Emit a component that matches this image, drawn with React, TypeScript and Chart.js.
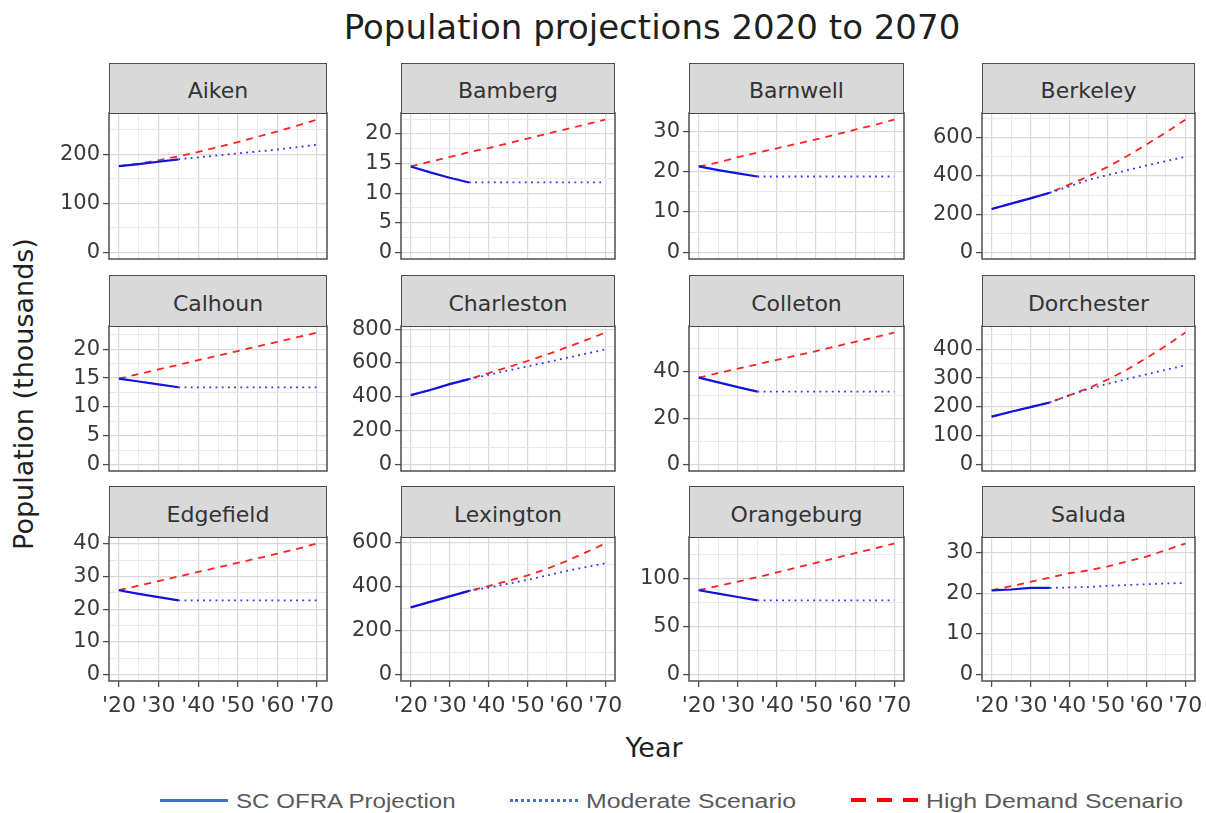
import React, { useEffect, useRef } from 'react';
import { Chart, registerables } from 'chart.js';

Chart.register(...registerables);

// ---------------- data ----------------
const COUNTIES = ['Aiken', 'Bamberg', 'Barnwell', 'Berkeley', 'Calhoun', 'Charleston', 'Colleton', 'Dorchester', 'Edgefield', 'Lexington', 'Orangeburg', 'Saluda'];

const OFRA_YEARS = [2020, 2025, 2030, 2035];
const MODERATE_YEARS = [2035, 2040, 2045, 2050, 2055, 2060, 2065, 2070];
const HIGH_YEARS = [2020, 2025, 2030, 2035, 2040, 2045, 2050, 2055, 2060, 2065, 2070];

const X_TICKS = [2020, 2030, 2040, 2050, 2060, 2070];
const X_TICK_LABELS = ["'20", "'30", "'40", "'50", "'60", "'70"];

// major y-axis step of each panel (thousands)
const Y_STEPS = [100, 5, 10, 200, 5, 200, 20, 100, 10, 200, 50, 10];

// SC OFRA Projection (solid), thousands
const OFRA = [
  [176, 180, 185, 190],
  [14.5, 13.5, 12.6, 11.8],
  [21.3, 20.4, 19.6, 18.8],
  [227, 255, 283, 312],
  [14.9, 14.4, 13.9, 13.4],
  [410, 440, 475, 505],
  [37.5, 35.5, 33.4, 31.5],
  [166, 183, 199, 215],
  [25.8, 24.7, 23.7, 22.7],
  [305, 330, 355, 380],
  [87.5, 84, 80.5, 77],
  [20.7, 20.9, 21.3, 21.3],
];

// Moderate Scenario (dotted), thousands
const MODERATE = [
  [190, 194, 198, 202, 206, 210, 215, 220],
  [11.8, 11.8, 11.8, 11.8, 11.8, 11.8, 11.8, 11.8],
  [18.8, 18.8, 18.8, 18.8, 18.8, 18.8, 18.8, 18.8],
  [312, 345, 380, 405, 430, 455, 478, 500],
  [13.4, 13.4, 13.4, 13.4, 13.4, 13.4, 13.4, 13.4],
  [505, 530, 555, 580, 605, 630, 655, 680],
  [31.5, 31.5, 31.5, 31.5, 31.5, 31.5, 31.5, 31.5],
  [215, 240, 262, 280, 297, 313, 329, 344],
  [22.7, 22.7, 22.7, 22.7, 22.7, 22.7, 22.7, 22.7],
  [380, 395, 412, 430, 450, 470, 488, 505],
  [77, 77, 77, 77, 77, 77, 77, 77],
  [21.3, 21.4, 21.5, 21.8, 22.0, 22.2, 22.4, 22.5],
];

// High Demand Scenario (dashed), thousands
const HIGH = [
  [176, 181, 188, 196, 205, 215, 225, 236, 247, 259, 271],
  [14.5, 15.3, 16.1, 16.9, 17.6, 18.4, 19.2, 20.0, 20.8, 21.6, 22.4],
  [21.3, 22.3, 23.6, 24.7, 25.8, 26.9, 28.0, 29.2, 30.4, 31.6, 32.9],
  [227, 255, 283, 312, 355, 398, 448, 505, 565, 628, 695],
  [14.9, 15.7, 16.5, 17.3, 18.1, 18.9, 19.7, 20.5, 21.3, 22.1, 22.9],
  [410, 440, 475, 505, 540, 575, 612, 650, 692, 735, 780],
  [37.5, 39.5, 41.4, 43.3, 45.2, 47.1, 49.0, 51.0, 53.0, 55.0, 57.0],
  [166, 183, 199, 215, 240, 265, 295, 330, 370, 412, 458],
  [25.8, 27.2, 28.6, 30.0, 31.4, 32.8, 34.2, 35.6, 37.0, 38.5, 40.1],
  [305, 330, 355, 380, 402, 425, 450, 480, 515, 555, 595],
  [87.5, 91.9, 96.5, 101, 106, 111, 116, 121, 126, 131, 136],
  [20.7, 21.7, 22.8, 23.8, 24.9, 25.6, 26.6, 27.8, 29.0, 30.6, 32.2],
];

const SERIES_NAMES = ['SC OFRA Projection', 'Moderate Scenario', 'High Demand Scenario'];

// ---------------- layout ----------------
const COL_LEFT = [109, 401, 689, 982];
const COL_RIGHT = [327, 615, 904, 1195];
const ROW_STRIP_TOP = [63, 275, 486];
const ROW_PLOT_TOP = [113, 326, 537];
const ROW_PLOT_BOTTOM = [259, 471, 681];

const FONT = '"DejaVu Sans", "Liberation Sans", Arial, sans-serif';
const PAD_T = 16;
const PAD_R = 22;
const PAD_B = 16;
const AXW = 70;
const XAH = 42;

const panelBorder = {
  id: 'panelBorder',
  afterDatasetsDraw(chart: any) {
    const { ctx, chartArea: a } = chart;
    ctx.save();
    ctx.strokeStyle = '#4D4D4D';
    ctx.lineWidth = 1.5;
    ctx.strokeRect(a.left, a.top, a.right - a.left, a.bottom - a.top);
    ctx.restore();
  },
};

function Panel({ idx }: { idx: number }) {
  const ref = useRef<HTMLCanvasElement>(null);
  const col = idx % 4;
  const row = Math.floor(idx / 4);
  const L = COL_LEFT[col];
  const R = COL_RIGHT[col];
  const P = ROW_PLOT_TOP[row];
  const B = ROW_PLOT_BOTTOM[row];
  const isBottom = row === 2;
  const w = R - L + AXW + PAD_R;
  const h = B - P + PAD_T + (isBottom ? XAH : PAD_B);

  useEffect(() => {
    if (!ref.current) return;
    const ofra = OFRA[idx];
    const mod = MODERATE[idx];
    const high = HIGH[idx];
    const maxV = Math.max(...ofra, ...mod, ...high);
    const yMin = -0.05 * maxV;
    const yMax = 1.05 * maxV;
    const step = Y_STEPS[idx];
    const yTicks: number[] = [];
    for (let k = 0; k * step / 2 <= yMax; k++) yTicks.push(k * step / 2);
    const isMajorY = (v: number) => Math.abs(v / step - Math.round(v / step)) < 1e-6;

    const xTicks: number[] = [];
    X_TICKS.forEach((v, i) => {
      xTicks.push(v);
      if (i < X_TICKS.length - 1) xTicks.push((v + X_TICKS[i + 1]) / 2);
    });
    const isMajorX = (v: number) => X_TICKS.indexOf(v) >= 0;

    const gridColor = (maj: boolean) => (maj ? '#D9D9D9' : '#E9E9E9');

    const chart = new Chart(ref.current, {
      type: 'line',
      data: {
        datasets: [
          {
            label: SERIES_NAMES[0],
            data: OFRA_YEARS.map((x, i) => ({ x, y: ofra[i] })),
            borderColor: '#1212E0',
            borderWidth: 2.2,
            pointRadius: 0,
            tension: 0,
          },
          {
            label: SERIES_NAMES[1],
            data: MODERATE_YEARS.map((x, i) => ({ x, y: mod[i] })),
            borderColor: '#3030FF',
            borderWidth: 1.8,
            borderDash: [1.8, 4.4],
            pointRadius: 0,
            tension: 0,
          },
          {
            label: SERIES_NAMES[2],
            data: HIGH_YEARS.map((x, i) => ({ x, y: high[i] })),
            borderColor: '#FF2020',
            borderWidth: 1.8,
            borderDash: [7, 6],
            pointRadius: 0,
            tension: 0,
          },
        ],
      },
      options: {
        responsive: false,
        animation: false,
        events: [],
        layout: { padding: { left: 0, top: PAD_T, right: PAD_R, bottom: isBottom ? 0 : PAD_B } },
        plugins: {
          legend: { display: false },
          tooltip: { enabled: false },
          title: { display: false },
        },
        scales: {
          x: {
            type: 'linear',
            min: 2017.5,
            max: 2072.5,
            afterBuildTicks: (s: any) => {
              s.ticks = xTicks.map((v) => ({ value: v }));
            },
            afterFit: (s: any) => {
              s.height = isBottom ? XAH : 0;
            },
            border: { display: false },
            grid: {
              color: (c: any) => gridColor(isMajorX(c.tick?.value)),
              lineWidth: (c: any) => (isMajorX(c.tick?.value) ? 1.2 : 1),
              drawTicks: isBottom,
              tickLength: 6,
              tickWidth: 1.3,
              tickColor: (c: any) => (isMajorX(c.tick?.value) ? '#4D4D4D' : 'rgba(0,0,0,0)'),
            },
            ticks: {
              display: isBottom,
              autoSkip: false,
              maxRotation: 0,
              minRotation: 0,
              padding: 6,
              color: '#3A3A3A',
              font: { family: FONT, size: 22 },
              callback: (v: any) => {
                const i = X_TICKS.indexOf(Number(v));
                return i >= 0 ? X_TICK_LABELS[i] : '';
              },
            },
          },
          y: {
            type: 'linear',
            min: yMin,
            max: yMax,
            afterBuildTicks: (s: any) => {
              s.ticks = yTicks.map((v) => ({ value: v }));
            },
            afterFit: (s: any) => {
              s.width = AXW;
            },
            border: { display: false },
            grid: {
              color: (c: any) => gridColor(isMajorY(c.tick?.value)),
              lineWidth: (c: any) => (isMajorY(c.tick?.value) ? 1.2 : 1),
              drawTicks: true,
              tickLength: 6,
              tickWidth: 1.3,
              tickColor: (c: any) => (isMajorY(c.tick?.value) ? '#4D4D4D' : 'rgba(0,0,0,0)'),
            },
            ticks: {
              autoSkip: false,
              padding: 3,
              color: '#3A3A3A',
              font: { family: FONT, size: 21 },
              callback: (v: any) => (isMajorY(Number(v)) ? String(Math.round(Number(v) * 100) / 100) : ''),
            },
          },
        },
      } as any,
      plugins: [panelBorder],
    });
    return () => chart.destroy();
  }, [idx]);

  return (
    <>
      <canvas
        ref={ref}
        width={w}
        height={h}
        style={{ position: 'absolute', left: L - AXW, top: P - PAD_T, width: w, height: h, display: 'block' }}
      />
      <div
        style={{
          position: 'absolute',
          left: L,
          top: ROW_STRIP_TOP[row],
          width: R - L,
          height: P - ROW_STRIP_TOP[row] + 1,
          boxSizing: 'border-box',
          background: '#D9D9D9',
          border: '1.5px solid #4D4D4D',
          display: 'flex',
          alignItems: 'center',
          justifyContent: 'center',
          paddingTop: 4,
          fontFamily: FONT,
          fontSize: 22,
          color: '#333333',
        }}
      >
        {COUNTIES[idx]}
      </div>
    </>
  );
}

let measureCtx: CanvasRenderingContext2D | null = null;
function fitScale(text: string, font: string, target: number): number {
  if (!measureCtx) measureCtx = document.createElement('canvas').getContext('2d');
  if (!measureCtx) return 1;
  measureCtx.font = font;
  const m = measureCtx.measureText(text).width;
  return m > 0 ? target / m : 1;
}

const LEGEND_FONT_SIZE = 20;
const LEGEND_FONT = '"Liberation Sans", Arial, sans-serif';

function LegendText({ text, left, right }: { text: string; left: number; right: number }) {
  const s = fitScale(text, `${LEGEND_FONT_SIZE}px ${LEGEND_FONT}`, right - left);
  return (
    <div
      style={{
        position: 'absolute',
        left,
        top: 791,
        fontFamily: LEGEND_FONT,
        fontSize: LEGEND_FONT_SIZE,
        lineHeight: `${LEGEND_FONT_SIZE}px`,
        whiteSpace: 'nowrap',
        color: '#595959',
        transform: `scaleX(${s})`,
        transformOrigin: 'left center',
      }}
    >
      {text}
    </div>
  );
}

export default function App() {
  return (
    <div
      style={{
        position: 'absolute',
        left: 0,
        top: 0,
        width: 1206,
        height: 813,
        overflow: 'hidden',
        background: '#FFFFFF',
      }}
    >
      <div
        style={{
          position: 'absolute',
          left: 152,
          width: 1000,
          top: 10,
          textAlign: 'center',
          fontFamily: FONT,
          fontSize: 34,
          lineHeight: '34px',
          color: '#1F1F1F',
          whiteSpace: 'nowrap',
        }}
      >
        Population projections 2020 to 2070
      </div>
      <div
        style={{
          position: 'absolute',
          left: 22.5,
          top: 394,
          transform: 'translate(-50%, -50%) rotate(-90deg)',
          fontFamily: FONT,
          fontSize: 27,
          lineHeight: '27px',
          color: '#1F1F1F',
          whiteSpace: 'nowrap',
        }}
      >
        Population (thousands)
      </div>
      <div
        style={{
          position: 'absolute',
          left: 554,
          width: 200,
          top: 734,
          textAlign: 'center',
          fontFamily: FONT,
          fontSize: 27,
          lineHeight: '27px',
          color: '#1F1F1F',
        }}
      >
        Year
      </div>

      {COUNTIES.map((_, i) => (
        <Panel key={i} idx={i} />
      ))}

      {/* legend */}
      <div style={{ position: 'absolute', left: 160, top: 798.5, width: 68, height: 0, borderTop: '3px solid #4472C4' }} />
      <LegendText text={SERIES_NAMES[0]} left={236} right={457} />
      <div style={{ position: 'absolute', left: 510, top: 798.5, width: 68, height: 0, borderTop: '3px dotted #4472C4' }} />
      <LegendText text={SERIES_NAMES[1]} left={586} right={796} />
      <div
        style={{
          position: 'absolute',
          left: 851,
          top: 798,
          width: 67,
          height: 4,
          background: 'repeating-linear-gradient(to right, #FF0000 0px, #FF0000 15px, transparent 15px, transparent 26px)',
        }}
      />
      <LegendText text={SERIES_NAMES[2]} left={926} right={1183} />
    </div>
  );
}
